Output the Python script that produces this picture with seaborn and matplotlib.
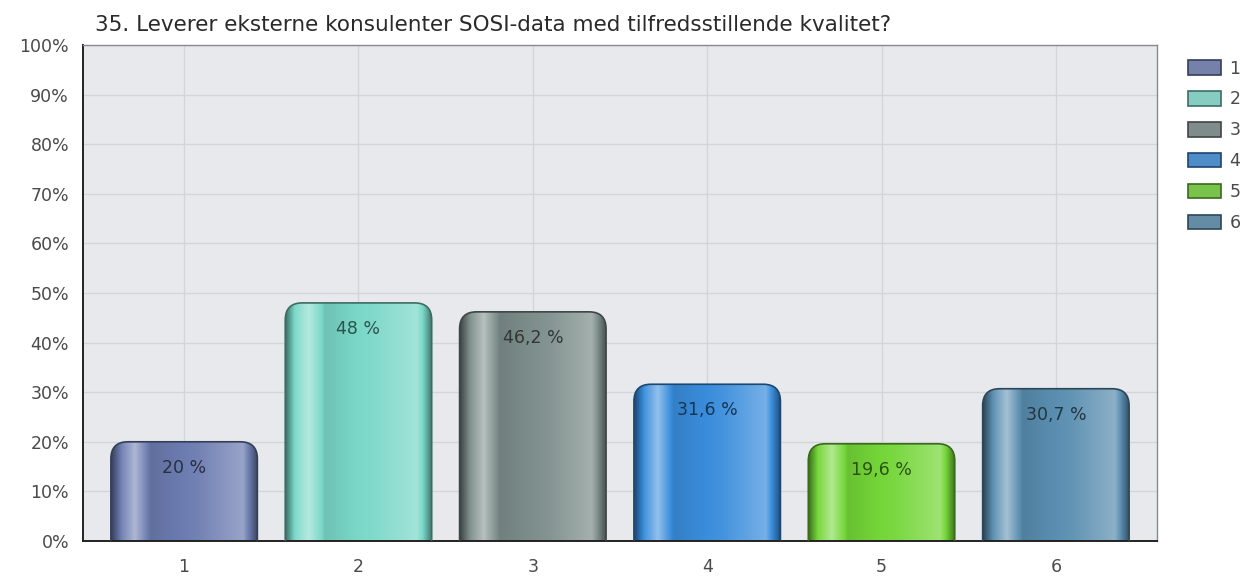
import numpy as np
import pandas as pd
import matplotlib
matplotlib.use("Agg")
import matplotlib.pyplot as plt
from matplotlib.patches import FancyBboxPatch
from matplotlib.colors import to_rgb
import seaborn as sns

# data
categories = ["1", "2", "3", "4", "5", "6"]
values = [20, 48, 46.2, 31.6, 19.6, 30.7]
labels = ["20 %", "48 %", "46,2 %", "31,6 %", "19,6 %", "30,7 %"]
colors = ["#6c7cb0", "#7ad8c8", "#7d8e8b", "#3a8ddc", "#74d638", "#5a8eb0"]
title = "35. Leverer eksterne konsulenter SOSI-data med tilfredsstillende kvalitet?"

df = pd.DataFrame({"cat": categories, "val": values})

sns.set_style("white")
plt.rcParams["font.family"] = ["DejaVu Sans"]

W, H = 1247, 577
fig = plt.figure(figsize=(W / 100, H / 100), dpi=100)
# plot area in pixels: x 83..1157, y 45..541
ax = fig.add_axes([83 / W, 1 - 541 / H, (1157 - 83) / W, (541 - 45) / H])
ax.set_facecolor("#e8e9ed")

sns.barplot(data=df, x="cat", y="val", hue="cat", palette=colors,
            width=0.84, ax=ax, legend=True)


def shade(c, f):
    c = np.array(to_rgb(c))
    if f >= 0:
        return c + (1 - c) * f
    return c * (1 + f)


# horizontal gradient profile across a bar (left edge -> right edge)
stops_x = [0.0, 0.07, 0.16, 0.27, 0.6, 0.9, 1.0]
stops_f = [-0.5, 0.05, 0.45, -0.1, 0.05, 0.3, -0.45]

xlim = (-0.58, 5.58)
xs_per_px = (xlim[1] - xlim[0]) / (1157 - 83)
ys_per_px = 100 / (541 - 45)
aspect = ys_per_px / xs_per_px

for i, p in enumerate(list(ax.patches)[:len(values)]):
    x0, w, h = p.get_x(), p.get_width(), p.get_height()
    c = colors[i]
    p.set_visible(False)
    box = FancyBboxPatch((x0, -6), w, h + 6,
                         boxstyle="round,pad=0,rounding_size=%f" % (17 * xs_per_px),
                         mutation_aspect=aspect, facecolor="none",
                         edgecolor=shade(c, -0.5), linewidth=1.2, zorder=3)
    ax.add_patch(box)
    t = np.linspace(0, 1, 200)
    fs = np.interp(t, stops_x, stops_f)
    row = np.array([shade(c, f) for f in fs])
    img = np.clip(np.tile(row[None, :, :], (2, 1, 1)), 0, 1)
    im = ax.imshow(img, extent=(x0, x0 + w, -6, h), aspect="auto",
                   zorder=2, interpolation="bilinear")
    im.set_clip_path(box)
    ax.text(x0 + w / 2, h - 5.2, labels[i], ha="center", va="center",
            fontsize=12.5, color=shade(c, -0.62), zorder=4)

ax.set_xlim(*xlim)
ax.set_ylim(0, 100)
ax.set_yticks(np.arange(0, 101, 10))
ax.set_yticklabels([f"{v}%" for v in range(0, 101, 10)])
ax.set_xlabel("")
ax.set_ylabel("")
ax.grid(True, color="#d3d5d9", linewidth=1)
ax.set_axisbelow(True)
ax.tick_params(axis="both", direction="out", length=6, width=1.2,
               colors="#222222", labelcolor="#4a4a4a", labelsize=12.5)
ax.tick_params(axis="y", pad=4)
ax.tick_params(axis="x", pad=6)
for s in ["left", "bottom"]:
    ax.spines[s].set_color("#222222")
    ax.spines[s].set_linewidth(1.4)
for s in ["top", "right"]:
    ax.spines[s].set_color("#8a8a8a")
    ax.spines[s].set_linewidth(1)

fig.text(95 / W, 1 - 31 / H, title, ha="left", va="baseline",
         fontsize=15.5, color="#2a2a2a")

handles, lbls = ax.get_legend_handles_labels()
for hd, c in zip(handles, colors):
    hd.set_edgecolor(shade(c, -0.5))
    hd.set_linewidth(1.2)
leg = ax.legend(handles, lbls, loc="upper left",
                bbox_to_anchor=((1172 - 83) / 1074, 1.002),
                frameon=False, handlelength=1.95, handleheight=0.9,
                labelspacing=0.74, handletextpad=0.45, fontsize=12.5)
for t in leg.get_texts():
    t.set_color("#4a4a4a")

fig.savefig("out.png", dpi=100, facecolor="white")
